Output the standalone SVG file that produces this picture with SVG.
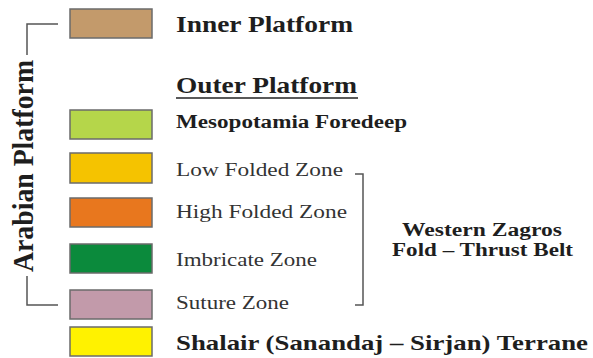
<svg xmlns="http://www.w3.org/2000/svg" width="593" height="358" viewBox="0 0 593 358">
<style>
.box{stroke:#6b6b6b;stroke-width:1.5}
.b{font-family:"Liberation Serif",serif;font-weight:bold;fill:#1e1e1e}
.r{font-family:"Liberation Serif",serif;fill:#333}
.ln{fill:none;stroke:#555;stroke-width:1.5}
</style>
<rect width="593" height="358" fill="#fff"/>
<g id="connectors">
<path class="ln" d="M58,24 H27 V55"/>
<path class="ln" d="M27,276 V305 H58"/>
<path class="ln" d="M355,174 H363 V305 H355"/>
</g>
<g id="arabian-platform"><text class="b" font-size="25" textLength="212" lengthAdjust="spacingAndGlyphs" transform="translate(33,166) scale(1.2,1) rotate(-90)" text-anchor="middle">Arabian Platform</text></g>
<g id="inner-platform"><rect class="box" x="70" y="9" width="82" height="29" fill="#c39a6b"/><text class="b" x="176" y="32" font-size="23.5" textLength="177" lengthAdjust="spacingAndGlyphs">Inner Platform</text></g>
<g id="outer-platform"><text class="b" x="176" y="93" font-size="23.5" textLength="181" lengthAdjust="spacingAndGlyphs">Outer Platform</text><line x1="176" y1="98" x2="358" y2="98" stroke="#222" stroke-width="1.5"/></g>
<g id="mesopotamia"><rect class="box" x="70" y="110" width="82" height="29" fill="#b5d64a"/><text class="b" x="176" y="128" font-size="18.5" textLength="231" lengthAdjust="spacingAndGlyphs">Mesopotamia Foredeep</text></g>
<g id="low-folded"><rect class="box" x="70" y="153" width="82" height="30" fill="#f5c300"/><text class="r" x="176" y="176" font-size="18.5" textLength="167" lengthAdjust="spacingAndGlyphs">Low Folded Zone</text></g>
<g id="high-folded"><rect class="box" x="70" y="198" width="82" height="29" fill="#e8771e"/><text class="r" x="176" y="218" font-size="18.5" textLength="171" lengthAdjust="spacingAndGlyphs">High Folded Zone</text></g>
<g id="imbricate"><rect class="box" x="70" y="244" width="82" height="29" fill="#0b8a3c"/><text class="r" x="176" y="266" font-size="18.5" textLength="141" lengthAdjust="spacingAndGlyphs">Imbricate Zone</text></g>
<g id="suture"><rect class="box" x="70" y="290" width="82" height="29" fill="#c29aaa"/><text class="r" x="176" y="309" font-size="18.5" textLength="113" lengthAdjust="spacingAndGlyphs">Suture Zone</text></g>
<g id="shalair"><rect class="box" x="70" y="327" width="82" height="29" fill="#fff200"/><text class="b" x="176" y="350" font-size="22" textLength="412" lengthAdjust="spacingAndGlyphs">Shalair (Sanandaj – Sirjan) Terrane</text></g>
<g id="western-zagros"><text class="b" x="482" y="236" font-size="18.5" text-anchor="middle" textLength="160" lengthAdjust="spacingAndGlyphs">Western Zagros</text><text class="b" x="482.5" y="256" font-size="18.5" text-anchor="middle" textLength="181" lengthAdjust="spacingAndGlyphs">Fold – Thrust Belt</text></g>
</svg>
